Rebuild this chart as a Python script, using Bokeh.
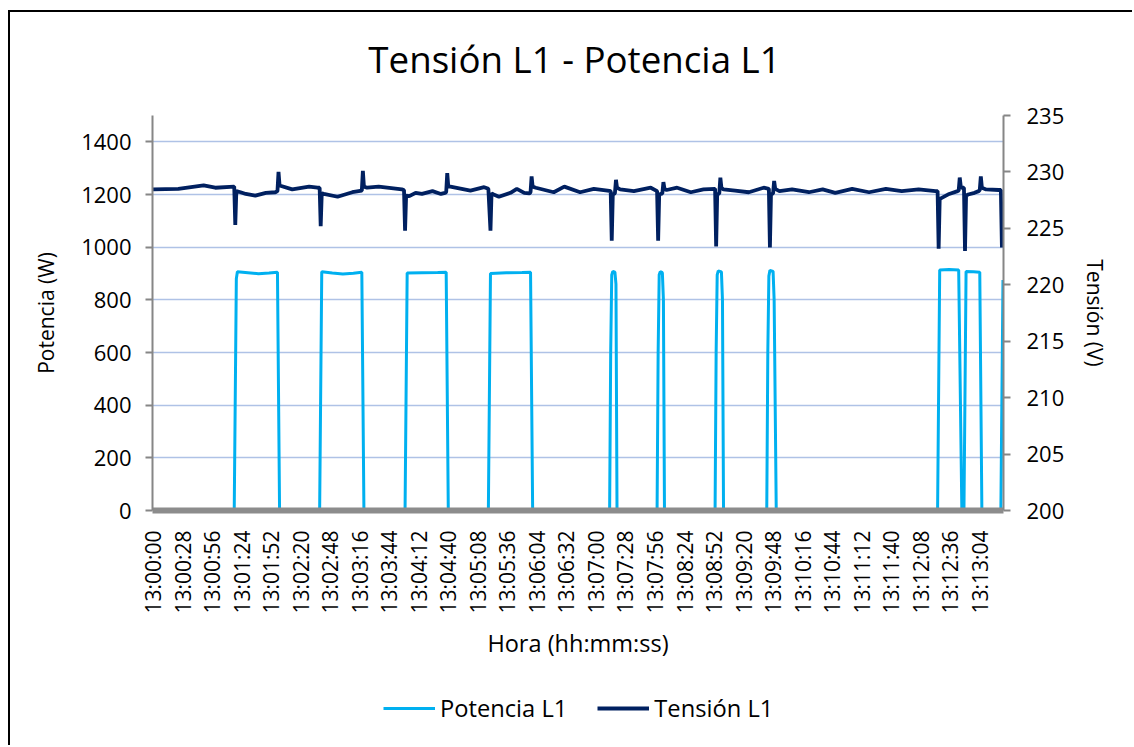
import math
from bokeh.plotting import figure
from bokeh.layouts import row, column
from bokeh.models import (Range1d, LinearAxis, FixedTicker, Legend, LegendItem, Spacer, Label)
from bokeh.embed import file_html
from bokeh.resources import INLINE

# ---------------- data (seconds after 13:00:00) ----------------
TITLE = "Tensión L1 - Potencia L1"
TICK_SECONDS = [0, 28, 56, 84, 112, 140, 168, 196, 224, 252, 280, 308, 336, 364, 392,
                420, 448, 476, 504, 532, 560, 588, 616, 644, 672, 700, 728, 756, 784]
TICK_LABELS = ["13:00:00", "13:00:28", "13:00:56", "13:01:24", "13:01:52", "13:02:20",
               "13:02:48", "13:03:16", "13:03:44", "13:04:12", "13:04:40", "13:05:08",
               "13:05:36", "13:06:04", "13:06:32", "13:07:00", "13:07:28", "13:07:56",
               "13:08:24", "13:08:52", "13:09:20", "13:09:48", "13:10:16", "13:10:44",
               "13:11:12", "13:11:40", "13:12:08", "13:12:36", "13:13:04"]

POT_T = [0, 77, 79, 80, 90, 100, 110, 118, 120,
         158, 160, 170, 180, 190, 198, 200,
         239, 241, 255, 270, 278, 280,
         318, 320, 335, 350, 358, 360,
         433, 434, 435, 436, 438, 439, 440,
         478, 479, 480, 481, 483, 484, 485,
         533, 534, 535, 536, 539, 540, 541,
         582, 583, 584, 585, 588, 589, 591,
         744, 746, 755, 764, 767,
         769, 771, 778, 784, 786,
         804, 806]
POT_W = [0, 0, 880, 907, 903, 899, 902, 905, 0,
         0, 907, 902, 898, 901, 905, 0,
         0, 902, 903, 904, 905, 0,
         0, 900, 903, 904, 905, 0,
         0, 600, 895, 908, 905, 860, 0,
         0, 600, 895, 907, 903, 800, 0,
         0, 600, 895, 910, 906, 800, 0,
         0, 600, 890, 912, 908, 800, 0,
         0, 913, 915, 913, 0,
         0, 908, 907, 905, 0,
         0, 875]

TEN_T = [0, 24, 48, 59, 77, 78, 79, 83, 88, 97, 107, 116, 118, 119, 120, 132, 148, 156, 158,
         159, 160, 162, 175, 189, 198, 199, 200, 203, 214, 236, 238, 239, 240, 243, 249, 255,
         265, 273, 277, 278, 279, 280, 282, 301, 314, 318, 320, 321, 323, 328, 339, 345, 352,
         357, 358, 359, 360, 363, 380, 390, 405, 418, 431, 434, 435, 436, 438, 439, 440, 443,
         456, 472, 478, 479, 480, 483, 484, 485, 487, 497, 510, 522, 533, 534, 535, 537, 538,
         539, 541, 552, 565, 579, 584, 585, 586, 588, 589, 590, 594, 606, 622, 635, 647, 663,
         679, 695, 710, 726, 742, 744, 745, 746, 748, 755, 763, 764, 765, 766, 767, 769, 770,
         771, 773, 779, 783, 784, 785, 786, 790, 802, 804, 805]
TEN_V = [228.45, 228.5, 228.8, 228.6, 228.7, 225.3, 228.3, 228.2, 228.05, 227.9, 228.15, 228.2,
         228.3, 230.0, 228.8, 228.45, 228.7, 228.6, 228.6,
         225.2, 228.1, 228.05, 227.8, 228.2, 228.35, 230.1, 228.7, 228.6, 228.7, 228.45, 228.4,
         224.8, 227.9, 227.85, 228.15, 228.05,
         228.3, 228.05, 228.15, 228.2, 229.9, 228.7, 228.7, 228.35, 228.65, 228.5, 224.8, 228.1,
         228.0, 227.8, 228.15, 228.5, 228.15,
         228.1, 228.2, 229.6, 228.7, 228.6, 228.2, 228.7, 228.2, 228.5, 228.35, 228.3, 223.9,
         228.0, 228.1, 229.3, 228.6, 228.45,
         228.3, 228.6, 228.3, 223.9, 228.0, 228.1, 229.1, 228.5, 228.4, 228.6, 228.2, 228.45,
         228.5, 223.4, 228.0, 228.1, 229.5,
         228.6, 228.45, 228.35, 228.2, 228.6, 228.5, 223.3, 228.0, 228.1, 229.2, 228.5, 228.3,
         228.45, 228.2, 228.45, 228.15, 228.5,
         228.2, 228.5, 228.3, 228.45, 228.3, 228.3, 223.2, 227.6, 227.7, 228.05, 228.3, 228.35,
         229.5, 228.7, 228.6, 228.6, 223.0,
         227.9, 228.0, 228.15, 228.3, 228.4, 229.6, 228.6, 228.45, 228.4, 228.4, 223.3]

POT_TICKS = [0, 200, 400, 600, 800, 1000, 1200, 1400]
TEN_TICKS = [200, 205, 210, 215, 220, 225, 230, 235]
SERIES_NAMES = ["Potencia L1", "Tensión L1"]
SERIES_COLORS = ["#00B0F0", "#002060"]

FONT = "Open Sans"
AXIS_GREY = "#868686"


def strip(height, styles):
    f = figure(width=1124, height=height, output_backend="svg", toolbar_location=None,
               x_range=Range1d(0, 1), y_range=Range1d(0, 1),
               min_border_left=142, min_border_right=131, min_border_top=0,
               min_border_bottom=0)
    f.styles = styles
    f.axis.visible = False
    f.grid.visible = False
    f.outline_line_color = None
    f.background_fill_color = "white"
    f.border_fill_color = "white"
    return f


# title strip
tp = strip(85, {"border-left": "2px solid black", "border-top": "2px solid black"})
tp.add_layout(Label(x=422, y=39, x_units="screen", y_units="screen", text=TITLE,
                    text_align="center", text_baseline="middle", text_font=FONT,
                    text_font_size="36.7px", text_color="black"))

# main chart
p = figure(width=1124, height=583, output_backend="svg", toolbar_location=None,
           x_range=Range1d(-0.5, 806.5), y_range=Range1d(0, 1500),
           min_border_left=142, min_border_right=131, min_border_top=20,
           min_border_bottom=168)
p.styles = {"border-left": "2px solid black"}
p.outline_line_color = None
p.background_fill_color = "white"
p.border_fill_color = "white"

p.extra_y_ranges = {"v": Range1d(200, 235)}

# x axis
xa = p.xaxis[0]
xa.ticker = FixedTicker(ticks=TICK_SECONDS)
xa.major_label_overrides = {t: lab for t, lab in zip(TICK_SECONDS, TICK_LABELS)}
xa.major_label_orientation = math.pi / 2
xa.major_label_text_font = FONT
xa.major_label_text_font_size = "21px"
xa.major_label_text_color = "black"
xa.major_label_standoff = 20
xa.major_tick_out = 0
xa.major_tick_in = 0
xa.minor_tick_line_color = None
xa.axis_line_color = "#8c8c8c"
xa.axis_line_width = 6
xa.axis_label = "Hora (hh:mm:ss)"
xa.axis_label_text_font = FONT
xa.axis_label_text_font_size = "23.5px"
xa.axis_label_text_font_style = "normal"
xa.axis_label_text_color = "black"
xa.axis_label_standoff = 10

# left axis
ya = p.yaxis[0]
ya.ticker = FixedTicker(ticks=POT_TICKS)
ya.major_label_text_font = FONT
ya.major_label_text_font_size = "22px"
ya.major_label_text_color = "black"
ya.major_label_standoff = 14
ya.major_tick_out = 7
ya.major_tick_in = 0
ya.major_tick_line_color = AXIS_GREY
ya.major_tick_line_width = 2
ya.minor_tick_line_color = None
ya.axis_line_color = AXIS_GREY
ya.axis_line_width = 2
ya.axis_label = "Potencia (W)"
ya.axis_label_text_font = FONT
ya.axis_label_text_font_size = "21px"
ya.axis_label_text_font_style = "normal"
ya.axis_label_text_color = "black"
ya.axis_label_standoff = 18

# right axis
ra = LinearAxis(y_range_name="v", ticker=FixedTicker(ticks=TEN_TICKS))
ra.major_label_text_font = FONT
ra.major_label_text_font_size = "22px"
ra.major_label_text_color = "black"
ra.major_label_standoff = 16
ra.major_tick_out = 7
ra.major_tick_in = 0
ra.major_tick_line_color = AXIS_GREY
ra.major_tick_line_width = 2
ra.minor_tick_line_color = None
ra.axis_line_color = AXIS_GREY
ra.axis_line_width = 2
ra.axis_label = "Tensión (V)"
ra.axis_label_text_font = FONT
ra.axis_label_text_font_size = "21px"
ra.axis_label_text_font_style = "normal"
ra.axis_label_text_color = "black"
ra.axis_label_standoff = 14
p.add_layout(ra, "right")

p.xgrid.grid_line_color = None
p.ygrid.ticker = FixedTicker(ticks=POT_TICKS)
p.ygrid.grid_line_color = "#AFC2E6"
p.ygrid.grid_line_width = 1.5

p.line(POT_T, POT_W, line_color=SERIES_COLORS[0], line_width=3)
p.line(TEN_T, TEN_V, y_range_name="v", line_color=SERIES_COLORS[1], line_width=3.8)

# legend strip (separate figure so the legend is not clipped by the plot frame)
lg = strip(67, {"border-left": "2px solid black"})
NAN = float("nan")
k1 = lg.line([NAN], [NAN], line_color=SERIES_COLORS[0], line_width=3)
k2 = lg.line([NAN], [NAN], line_color=SERIES_COLORS[1], line_width=3.8)
legend = Legend(items=[LegendItem(label=SERIES_NAMES[0], renderers=[k1]),
                       LegendItem(label=SERIES_NAMES[1], renderers=[k2])],
                orientation="horizontal", location=(231, 21))
legend.label_text_font = FONT
legend.label_text_font_size = "23.7px"
legend.label_text_color = "black"
legend.glyph_width = 52
legend.glyph_height = 24
legend.label_height = 24
legend.label_standoff = 5
legend.spacing = 30
legend.padding = 0
legend.margin = 0
legend.border_line_color = None
legend.background_fill_alpha = 0
lg.add_layout(legend)

page = row(Spacer(width=8, height=747),
           column(Spacer(width=1126, height=10), tp, p, lg, spacing=0), spacing=0)

open("out.html", "w").write(file_html(page, INLINE))
